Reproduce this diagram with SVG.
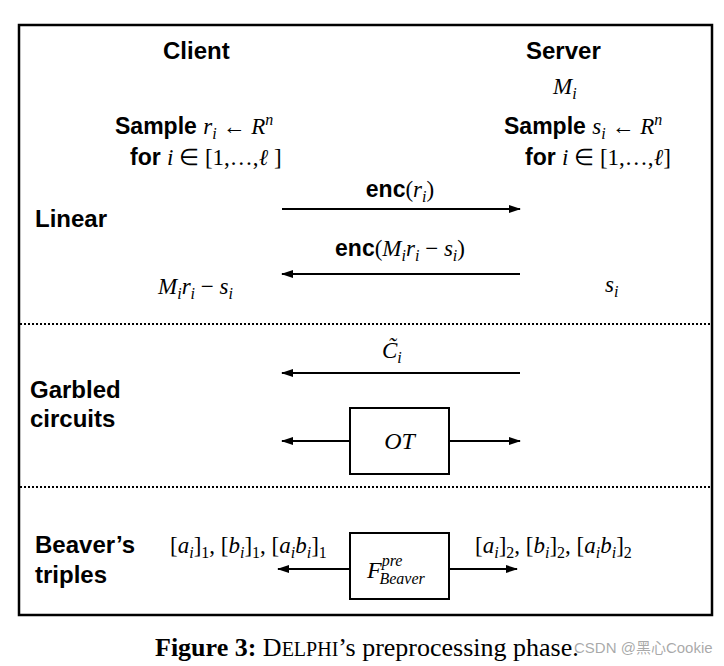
<svg xmlns="http://www.w3.org/2000/svg" width="724" height="666" viewBox="0 0 724 666">
<style>
.h{font-family:"Liberation Sans",Arial,sans-serif;font-weight:bold;font-size:24px;fill:#000}
.m{font-family:"Liberation Serif","Times New Roman",serif;font-size:23px;fill:#000}
.i{font-style:italic}
.b{font-family:"Liberation Sans",Arial,sans-serif;font-weight:bold;font-style:normal}
.ln{stroke:#000;stroke-width:2;fill:none}
.dot{stroke:#000;stroke-width:2;stroke-dasharray:2,2;fill:none}
.box{fill:#fff;stroke:#000;stroke-width:2}
</style>
<defs>
<marker id="ah" viewBox="0 0 12 10" refX="11" refY="5" markerWidth="12" markerHeight="10" markerUnits="userSpaceOnUse" orient="auto">
<path d="M0,1 L12,5 L0,9 Z" fill="#000"/>
</marker>
</defs>
<rect width="724" height="666" fill="#fff"/>
<rect x="19" y="25" width="693" height="590" fill="none" stroke="#000" stroke-width="2.5"/>
<line class="dot" x1="20" y1="324" x2="711" y2="324"/>
<line class="dot" x1="20" y1="487" x2="711" y2="487"/>

<g id="client">
<text class="h" x="163" y="59">Client</text>
<text class="m" x="115" y="134"><tspan class="b">Sample </tspan><tspan class="i">r</tspan><tspan class="i" font-size="16" dy="5">i</tspan><tspan dy="-5"> ← </tspan><tspan class="i">R</tspan><tspan class="i" font-size="16" dy="-9">n</tspan></text>
<text class="m" x="130" y="165"><tspan class="b">for </tspan><tspan class="i">i</tspan><tspan> ∈ [1,…,</tspan><tspan class="i">ℓ</tspan><tspan> ]</tspan></text>
<text class="m i" x="158" y="294">M<tspan font-size="16" dy="5">i</tspan><tspan dy="-5">r</tspan><tspan font-size="16" dy="5">i</tspan><tspan dy="-5" font-style="normal"> − </tspan>s<tspan font-size="16" dy="5">i</tspan></text>
</g>

<g id="server">
<text class="h" x="526" y="59">Server</text>
<text class="m i" x="553" y="94">M<tspan font-size="16" dy="5">i</tspan></text>
<text class="m" x="504" y="134"><tspan class="b">Sample </tspan><tspan class="i">s</tspan><tspan class="i" font-size="16" dy="5">i</tspan><tspan dy="-5"> ← </tspan><tspan class="i">R</tspan><tspan class="i" font-size="16" dy="-9">n</tspan></text>
<text class="m" x="525" y="165"><tspan class="b">for </tspan><tspan class="i">i</tspan><tspan> ∈ [1,…,</tspan><tspan class="i">ℓ</tspan><tspan>]</tspan></text>
<text class="m i" x="605" y="292">s<tspan font-size="16" dy="5">i</tspan></text>
</g>

<g id="phase-labels">
<text class="h" x="35" y="227">Linear</text>
<text class="h" x="30" y="398">Garbled</text>
<text class="h" x="30" y="427">circuits</text>
<text class="h" x="35" y="553">Beaver’s</text>
<text class="h" x="35" y="583">triples</text>
</g>

<g id="ot">
<rect class="box" x="350" y="408" width="99" height="66"/>
<text class="m i" x="399.5" y="449" text-anchor="middle" style="font-size:24px">OT</text>
</g>

<g id="fbeaver">
<rect class="box" x="350" y="533" width="99" height="66"/>
<text class="m i" x="367" y="578" style="font-size:24px">F<tspan font-size="16" dy="-12">pre</tspan><tspan font-size="16" dx="-23" dy="18">Beaver</tspan></text>
</g>

<g id="connectors">
<line class="ln" x1="282" y1="209" x2="520" y2="209" marker-end="url(#ah)"/>
<text class="m" x="400" y="197" text-anchor="middle"><tspan class="b">enc</tspan>(<tspan class="i">r</tspan><tspan class="i" font-size="16" dy="5">i</tspan><tspan dy="-5">)</tspan></text>
<line class="ln" x1="520" y1="274" x2="282" y2="274" marker-end="url(#ah)"/>
<text class="m" x="400" y="256" text-anchor="middle"><tspan class="b">enc</tspan>(<tspan class="i">M</tspan><tspan class="i" font-size="16" dy="5">i</tspan><tspan class="i" dy="-5">r</tspan><tspan class="i" font-size="16" dy="5">i</tspan><tspan dy="-5"> − </tspan><tspan class="i">s</tspan><tspan class="i" font-size="16" dy="5">i</tspan><tspan dy="-5">)</tspan></text>
<line class="ln" x1="520" y1="373" x2="282" y2="373" marker-end="url(#ah)"/>
<text class="m i" x="382" y="358">C&#771;<tspan font-size="16" dy="5">i</tspan></text>
<line class="ln" x1="350" y1="441" x2="282" y2="441" marker-end="url(#ah)"/>
<line class="ln" x1="449" y1="441" x2="520" y2="441" marker-end="url(#ah)"/>
<line class="ln" x1="350" y1="569" x2="278" y2="569" marker-end="url(#ah)"/>
<line class="ln" x1="449" y1="569" x2="517" y2="569" marker-end="url(#ah)"/>
<text class="m" x="170" y="553">[<tspan class="i">a</tspan><tspan class="i" font-size="16" dy="5">i</tspan><tspan dy="-5">]</tspan><tspan font-size="16" dy="5">1</tspan><tspan dy="-5">, [</tspan><tspan class="i">b</tspan><tspan class="i" font-size="16" dy="5">i</tspan><tspan dy="-5">]</tspan><tspan font-size="16" dy="5">1</tspan><tspan dy="-5">, [</tspan><tspan class="i">a</tspan><tspan class="i" font-size="16" dy="5">i</tspan><tspan class="i" dy="-5">b</tspan><tspan class="i" font-size="16" dy="5">i</tspan><tspan dy="-5">]</tspan><tspan font-size="16" dy="5">1</tspan></text>
<text class="m" x="475" y="553">[<tspan class="i">a</tspan><tspan class="i" font-size="16" dy="5">i</tspan><tspan dy="-5">]</tspan><tspan font-size="16" dy="5">2</tspan><tspan dy="-5">, [</tspan><tspan class="i">b</tspan><tspan class="i" font-size="16" dy="5">i</tspan><tspan dy="-5">]</tspan><tspan font-size="16" dy="5">2</tspan><tspan dy="-5">, [</tspan><tspan class="i">a</tspan><tspan class="i" font-size="16" dy="5">i</tspan><tspan class="i" dy="-5">b</tspan><tspan class="i" font-size="16" dy="5">i</tspan><tspan dy="-5">]</tspan><tspan font-size="16" dy="5">2</tspan></text>
</g>

<g id="caption">
<text class="m" x="155" y="656" style="font-size:26px"><tspan font-weight="bold">Figure 3:</tspan> D<tspan font-size="20">ELPHI</tspan>’s preprocessing phase.</text>
<text x="574" y="653" font-family="'Liberation Sans','Noto Sans CJK SC',sans-serif" font-size="15" fill="#9a9a9a" fill-opacity="0.85">CSDN @黑心Cookie</text>
</g>
</svg>
